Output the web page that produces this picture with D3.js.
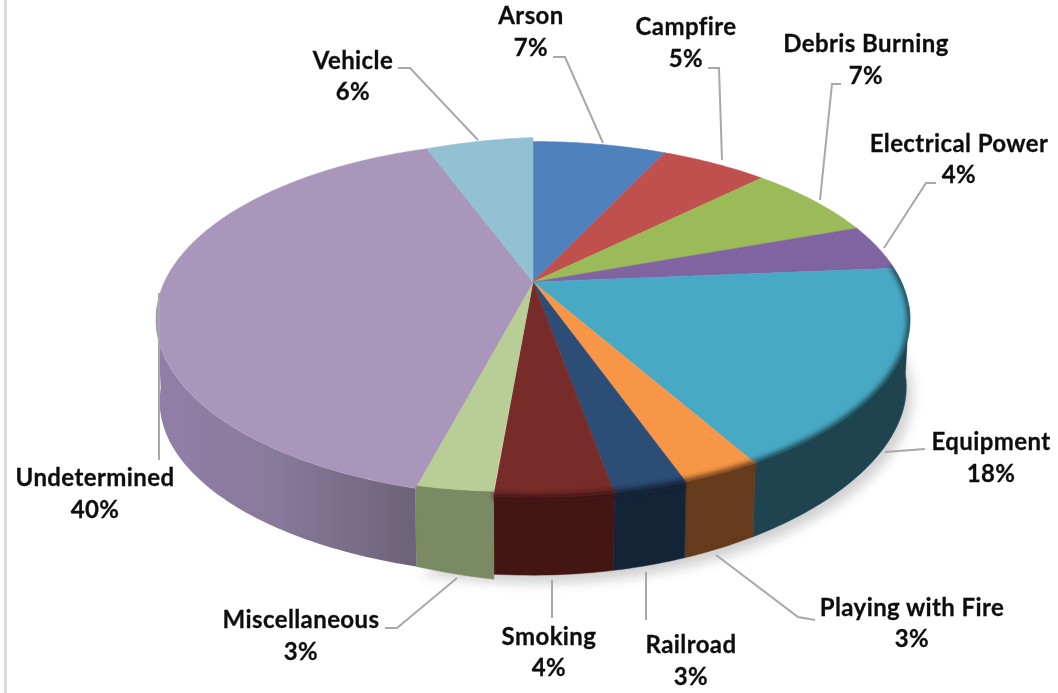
<!DOCTYPE html>
<html><head><meta charset="utf-8">
<script src="https://cdn.jsdelivr.net/npm/d3@7/dist/d3.min.js"></script>
<style>html,body{margin:0;padding:0;background:#fff}svg{display:block}
text{font-family:Lato,"Open Sans",sans-serif;font-weight:700;font-size:24px;letter-spacing:.4px;fill:#111;stroke:#111;stroke-width:.3px;text-anchor:middle}</style>
</head><body><svg id="c" width="1058" height="693"></svg>
<script>
const categories=["Arson","Campfire","Debris Burning","Electrical Power","Equipment","Playing with Fire","Railroad","Smoking","Miscellaneous","Undetermined","Vehicle"];
const sliceShares=[7.0,5.6,6.9,4.2,18.1,2.8,2.6,4.15,2.75,40.3,5.6];
const percentLabels=["7%","5%","7%","4%","18%","3%","3%","4%","3%","40%","6%"];
const topColors=["#4f81bd","#c0504d","#9bbb59","#8064a2","#48a9c5","#f79646","#2c4d75","#772c2a","#b9cd96","#a897bb","#92c1d3"];
const wallColors=["#2f4d71","#73302e","#5d7035","#4c3c61","#1f444f","#663b1c","#142437","#431614","#7a8a62","#8f7fa5","#577380"];

const W=1058,H=693,svg=d3.select("#c");
const K=0.21, DEG=Math.PI/180;
const xTop=d3.scaleLinear([-1,1],[533-368.6,533+368.6]);
const yTop=d3.scaleLinear([-1,1],[282-170,282+170]);
const xBot=d3.scaleLinear([-1,1],[533-365,533+365]);
const yBot=d3.scaleLinear([-1,1],[365-166,365+166]);
const line=d3.line().curve(d3.curveLinear);
const idx=c=>categories.indexOf(c);
const project=(a,xs,ys)=>{const u=Math.sin(a),v=-Math.cos(a),d=1-K*v;return [xs(u/d),ys(v/d)];};
// the lower rim rises towards the right in the source picture
const projectBot=a=>{const p=project(a,xBot,yBot),r=Math.max(0,(p[0]-533)/365);p[1]-=14*r*r;return p;};
const samples=(a0,a1)=>d3.range(0,1.0001,1/Math.max(2,Math.ceil((a1-a0)/DEG))).map(t=>a0+(a1-a0)*t);
const slices=d3.pie().sort(null).value(d=>d)(sliceShares);

// small per-slice rendering skews seen in the source picture
const topSkew=(i,a,s)=>{const t=(a-s.startAngle)/(s.endAngle-s.startAngle);
  if(i===idx("Vehicle"))return -4*t;
  if(i===idx("Miscellaneous"))return -5+2*t;
  return 0;};
const botSkew=(i,a,s)=>{const t=(a-s.startAngle)/(s.endAngle-s.startAngle);
  if(i===idx("Miscellaneous"))return 5*(1-t);
  return 0;};
const rimTop=(i,a,s)=>{const p=project(a,xTop,yTop);p[1]+=topSkew(i,a,s);return p;};
const rimBot=(i,a,s)=>{const p=projectBot(a);p[1]+=botSkew(i,a,s);return p;};

const defs=svg.append("defs");
defs.append("filter").attr("id","sh").attr("x","-10%").attr("y","-10%").attr("width","120%").attr("height","120%")
  .append("feGaussianBlur").attr("stdDeviation",6);
defs.append("filter").attr("id","bev").attr("filterUnits","userSpaceOnUse").attr("x",0).attr("y",0).attr("width",W).attr("height",H)
  .append("feGaussianBlur").attr("stdDeviation",2.6);
defs.append("filter").attr("id","txt").attr("x","-5%").attr("y","-20%").attr("width","110%").attr("height","140%")
  .append("feGaussianBlur").attr("stdDeviation",0.35);
const gr=defs.append("linearGradient").attr("id","undWall").attr("x1",0).attr("x2",1).attr("y1",0).attr("y2",0);
gr.append("stop").attr("offset",0).attr("stop-color","#917fa8");
gr.append("stop").attr("offset",0.45).attr("stop-color","#887a9b");
gr.append("stop").attr("offset",1).attr("stop-color","#6d6279");

// page edge
svg.append("rect").attr("x",4).attr("y",0).attr("width",3).attr("height",H).attr("fill","#dcdcdc");

// soft shadow, lower right only
const full=samples(85*DEG,195*DEG).map(a=>projectBot(a).map((c,j)=>j?c+8:c+6));
svg.append("path").attr("d",line(full)+"Z").attr("fill","#777").attr("opacity",0.34).attr("filter","url(#sh)");

// side walls, front half only
const VIS0=98*DEG,VIS1=262*DEG;
const wallPath=(s,i)=>{
    const a0=Math.max(s.startAngle,VIS0),a1=Math.min(s.endAngle,VIS1),A=samples(a0,a1);
    return line([...A.map(a=>rimTop(i,a,s)),...A.slice().reverse().map(a=>rimBot(i,a,s))])+"Z";};
svg.append("g").selectAll("path").data(slices.map((s,i)=>({s,i}))
   .filter(d=>d.s.endAngle>VIS0&&d.s.startAngle<VIS1))
  .join("path")
  .attr("d",({s,i})=>wallPath(s,i))
  .attr("fill",({i})=>i===idx("Undetermined")?"url(#undWall)":wallColors[i])
  .attr("stroke",({i})=>i===idx("Undetermined")?"none":wallColors[i]).attr("stroke-width",0.5);

// top face
const topOrder=slices.map((s,i)=>({s,i}));
const hub=project(0,d3.scaleLinear([0,1],[533,533]),d3.scaleLinear([0,1],[282,282]));
svg.append("g").selectAll("path").data(topOrder).join("path")
  .attr("d",({s,i})=>line([hub,...samples(s.startAngle,s.endAngle).map(a=>rimTop(i,a,s))])+"Z")
  .attr("fill",({i})=>topColors[i]).attr("stroke",({i})=>topColors[i]).attr("stroke-width",0.5);

// soft bevel where the top face meets the wall; kept inside the pie body
const clip=defs.append("clipPath").attr("id","body");
clip.append("path").attr("d",line(samples(0,360*DEG).map(a=>project(a,xTop,yTop)))+"Z");
clip.append("path").attr("d",line([...samples(VIS0,VIS1).map(a=>project(a,xTop,yTop)),...samples(VIS0,VIS1).reverse().map(a=>projectBot(a))])+"Z");
const bevelNames=["Electrical Power","Equipment","Playing with Fire","Railroad","Smoking"];
const bev=svg.append("g").attr("clip-path","url(#body)");
bev.selectAll("path").data(bevelNames.map(n=>({i:idx(n),s:slices[idx(n)]}))).join("path")
  .attr("d",({s,i})=>{const a0=i===idx("Electrical Power")?s.endAngle-1*DEG:s.startAngle;return line(samples(a0,s.endAngle).map(a=>project(a,xTop,yTop)));})
  .attr("fill","none").attr("stroke",({i})=>i===idx("Electrical Power")?wallColors[idx("Equipment")]:wallColors[i])
  .attr("stroke-width",6).attr("filter","url(#bev)");

// leaders and labels (layout only)
const leaderLayout={
 "Arson":[[553,57],[565,57],[603,143]],
 "Campfire":[[708,68],[719,68],[722,160]],
 "Debris Burning":[[841,84],[832,84],[820,200]],
 "Electrical Power":[[936,183],[926,183],[884,248]],
 "Equipment":[[925,449],[885,452]],
 "Playing with Fire":[[815,620],[798,617],[716,555]],
 "Railroad":[[646,572],[646,620]],
 "Smoking":[[552,580],[552,618]],
 "Miscellaneous":[[385,628],[397,628],[457,578]],
 "Undetermined":[[159,293],[159,460]],
 "Vehicle":[[398,68],[410,68],[478,140]]};
const labelLayout={
 "Arson":[531,24,56],"Campfire":[686,35,67],"Debris Burning":[866,52,84],
 "Electrical Power":[959,152,183],"Equipment":[991,450,482],"Playing with Fire":[912,616,647],
 "Railroad":[691,653,685],"Smoking":[549,645,676],"Miscellaneous":[301,628,660],
 "Undetermined":[95,486,518],"Vehicle":[353,69,100]};
svg.append("g").selectAll("path").data(categories).join("path")
  .attr("d",c=>line(leaderLayout[c])).attr("fill","none").attr("stroke","#a8a8a8").attr("stroke-width",2);
const lab=svg.append("g").attr("filter","url(#txt)").selectAll("g").data(categories).join("g");
lab.append("text").attr("x",c=>labelLayout[c][0]).attr("y",c=>labelLayout[c][1]).text(c=>c);
lab.append("text").attr("x",c=>labelLayout[c][0]).attr("y",c=>labelLayout[c][2]).text((c,i)=>percentLabels[i]);
</script></body></html>
